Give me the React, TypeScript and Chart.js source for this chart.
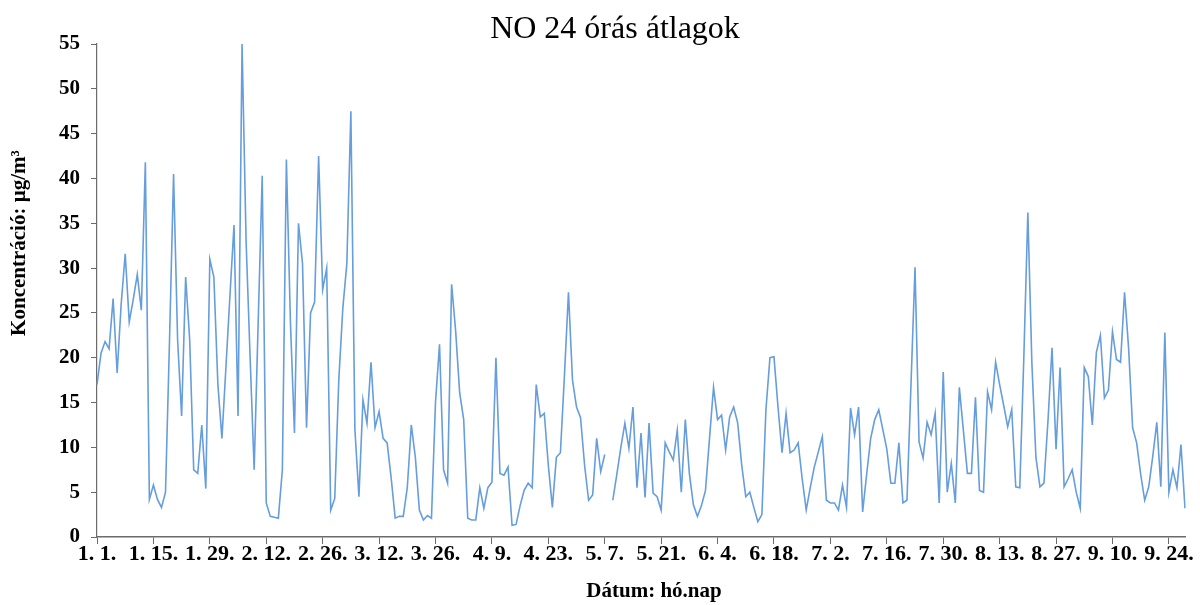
import { useEffect, useRef } from "react";
import { Chart, registerables } from "chart.js";

Chart.register(...registerables);

const TITLE = "NO 24 órás átlagok";
const Y_TITLE = "Koncentráció: µg/m³";
const X_TITLE = "Dátum: hó.nap";

// Daily NO averages (µg/m³), one array per month
const noJanuary = [17.0, 20.5, 21.8, 21.0, 26.6, 18.3, 26.0, 31.6, 24.0, 26.5, 29.3, 25.3, 41.8, 4.2, 5.8, 4.2, 3.3, 5.0, 22.0, 40.5, 22.0, 13.5, 29.0, 22.0, 7.5, 7.1, 12.5, 5.4, 31.0, 29.0, 17.0];
const noFebruary = [11.0, 19.0, 27.0, 34.8, 13.5, 55.0, 33.0, 20.0, 7.5, 24.0, 40.3, 3.8, 2.3, 2.2, 2.1, 7.5, 42.1, 24.0, 11.6, 35.0, 30.5, 12.2, 25.0, 26.2, 42.5, 27.6, 30.0, 3.0];
const noMarch = [4.3, 17.5, 25.5, 30.5, 47.5, 12.0, 4.5, 15.3, 12.7, 19.5, 12.2, 14.0, 11.0, 10.5, 6.6, 2.1, 2.3, 2.3, 5.5, 12.5, 8.9, 3.0, 1.9, 2.4, 2.1, 15.0, 21.5, 7.5, 6.0, 28.2, 23.0];
const noApril = [16.1, 13.1, 2.1, 1.9, 1.9, 5.5, 3.2, 5.5, 6.1, 20.0, 7.1, 6.9, 7.8, 1.3, 1.4, 3.5, 5.2, 6.0, 5.5, 17.0, 13.4, 13.8, 8.0, 3.3, 8.9, 9.4, 18.0, 27.3, 17.5, 14.5];
const noMay = [13.3, 8.0, 4.1, 4.7, 11.0, 7.3, 9.2, null, 4.1, 7.0, 10.0, 12.7, 9.9, 14.5, 5.5, 11.6, 4.4, 12.7, 4.9, 4.5, 3.0, 10.5, 9.5, 8.6, 11.9, 5.0, 13.1, 7.1, 3.6, 2.3, 3.5];
const noJune = [5.2, 11.0, 16.7, 13.1, 13.6, 9.7, 13.4, 14.5, 12.7, 8.0, 4.5, 5.0, 3.3, 1.7, 2.5, 14.2, 20.0, 20.1, 14.5, 9.4, 13.8, 9.4, 9.7, 10.5, 6.5, 3.0, 5.5, 7.8, 9.5, 11.2];
const noJuly = [4.1, 3.8, 3.8, 3.0, 5.8, 3.3, 14.4, 11.4, 14.5, 2.8, 7.0, 11.0, 13.1, 14.2, 12.0, 9.8, 6.0, 6.0, 10.5, 3.8, 4.1, 17.0, 30.1, 10.6, 8.8, 12.8, 11.4, 13.8, 3.8, 18.4, 5.0];
const noAugust = [8.2, 3.8, 16.7, 11.9, 7.1, 7.1, 15.6, 5.2, 5.0, 16.2, 14.2, 19.5, 17.0, 14.7, 12.3, 14.2, 5.6, 5.5, 20.0, 36.2, 19.4, 8.9, 5.6, 6.0, 13.0, 21.1, 9.8, 18.9, 5.6, 6.5, 7.5];
const noSeptember = [5.0, 3.2, 18.9, 17.9, 12.5, 20.6, 22.5, 15.5, 16.4, 22.9, 19.8, 19.5, 27.3, 21.1, 12.2, 10.5, 7.0, 4.1, 5.6, 9.0, 12.8, 5.6, 22.8, 5.0, 7.5, 5.5, 10.3, 3.2];

const monthlySeries = [noJanuary, noFebruary, noMarch, noApril, noMay, noJune, noJuly, noAugust, noSeptember];

// "hó. nap." category labels, one per measured day
const dateLabels: string[] = [];
monthlySeries.forEach((month, m) => {
  month.forEach((_, d) => dateLabels.push(`${m + 1}. ${d + 1}.`));
});
const noValues: (number | null)[] = monthlySeries.flat();

const LABEL_STEP = 14;
const Y_TICKS = { min: 0, max: 55, step: 5 };

const AXIS_COLOR = "#6b6b6b";
const LINE_COLOR = "#659ddd";
const SERIF = '"Liberation Serif", "Times New Roman", serif';

// Heading and both axis captions, placed relative to the plot area
const captionPlugin = {
  id: "chartCaptions",
  afterDraw(chart: Chart) {
    const { ctx, chartArea } = chart;
    ctx.save();
    ctx.fillStyle = "#000";
    ctx.textAlign = "center";
    ctx.textBaseline = "middle";

    ctx.font = `32px ${SERIF}`;
    ctx.fillText(TITLE, chart.width / 2 + 15, 30);

    ctx.font = `bold 21px ${SERIF}`;
    ctx.fillText(X_TITLE, (chartArea.left + chartArea.right) / 2 + 13, chart.height - 13);

    ctx.translate(20, chartArea.top + 199);
    ctx.rotate(-Math.PI / 2);
    ctx.fillText(Y_TITLE, 0, 0);
    ctx.restore();
  },
};

export default function App() {
  const canvasRef = useRef<HTMLCanvasElement | null>(null);

  useEffect(() => {
    if (!canvasRef.current) return;
    const chart = new Chart(canvasRef.current, {
      type: "line",
      data: {
        labels: dateLabels,
        datasets: [
          {
            data: noValues,
            borderColor: LINE_COLOR,
            borderWidth: 1.6,
            pointRadius: 0,
            tension: 0,
            spanGaps: false,
          },
        ],
      },
      options: {
        responsive: false,
        animation: false,
        layout: { padding: { left: 0, right: 15, top: 44, bottom: 0 } },
        plugins: {
          legend: { display: false },
          tooltip: { enabled: false },
          title: { display: false },
        },
        scales: {
          x: {
            type: "category",
            offset: false,
            afterBuildTicks: (scale: any) => {
              scale.ticks = scale.ticks.filter((t: any) => t.value % LABEL_STEP === 0);
            },
            afterFit: (scale: any) => {
              scale.height = 68;
            },
            ticks: {
              autoSkip: false,
              maxRotation: 0,
              minRotation: 0,
              padding: -3,
              color: "#000",
              font: { family: SERIF, size: 22, weight: "bold" },
            },
            grid: {
              drawOnChartArea: false,
              drawTicks: true,
              tickLength: 7,
              color: AXIS_COLOR,
            },
            border: { display: true, color: AXIS_COLOR, width: 1.5 },
          },
          y: {
            min: Y_TICKS.min,
            max: Y_TICKS.max,
            afterFit: (scale: any) => {
              scale.width = 97;
            },
            ticks: {
              stepSize: Y_TICKS.step,
              padding: 11,
              color: "#000",
              font: { family: SERIF, size: 21, weight: "bold" },
            },
            grid: {
              drawOnChartArea: false,
              drawTicks: true,
              tickLength: 6,
              color: AXIS_COLOR,
            },
            border: { display: true, color: AXIS_COLOR, width: 1.2 },
          },
        },
      },
      plugins: [captionPlugin],
    });
    return () => chart.destroy();
  }, []);

  return (
    <div style={{ position: "absolute", left: 0, top: 0, width: 1200, height: 605, background: "#fff" }}>
      <canvas ref={canvasRef} width={1200} height={605} />
    </div>
  );
}
